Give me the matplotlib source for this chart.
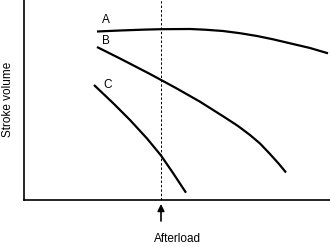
import matplotlib
matplotlib.use("Agg")
import matplotlib.pyplot as plt

plt.rcParams['font.family'] = ['Liberation Sans', 'DejaVu Sans']

# schematic: afterload (x) vs stroke volume (y), arbitrary units
a_x = [73, 96, 121, 137, 166, 181, 199, 216, 233, 249, 266, 286, 304]
a_y = [168.5, 169.5, 170.4, 170.8, 171.0, 170.3, 169.0, 166.8, 164.0,
       160.7, 156.7, 152.0, 146.7]
b_x = [73, 96, 126, 151, 176, 201, 214, 226, 236, 246, 255, 262]
b_y = [153.0, 141.5, 126.0, 112.5, 98.3, 82.5, 74.0, 65.0, 56.5, 46.0, 36.0, 27.5]
c_x = [70, 89, 106, 123, 137, 149, 162]
c_y = [115.0, 97.0, 80.0, 61.5, 44.5, 27.0, 7.3]
labels = ['A', 'B', 'C']
label_pos = [(82, 180), (82, 158.5), (84, 115)]
marker_x = 137

fig = plt.figure(figsize=(3.3, 2.47), dpi=100)
ax = fig.add_axes([24/330, 47/247, 306/330, 200/247])

for xs, ys in [(a_x, a_y), (b_x, b_y), (c_x, c_y)]:
    ax.plot(xs, ys, color='black', lw=1.6, solid_capstyle='butt',
            solid_joinstyle='round')

for lab, (lx, ly) in zip(labels, label_pos):
    ax.text(lx, ly, lab, fontsize=8.5, ha='center', va='center')

ax.axvline(marker_x, color='black', lw=0.7, ls=(0, (2.5, 2)))

ax.set_xlim(0, 306)
ax.set_ylim(0, 200)
ax.set_xticks([])
ax.set_yticks([])
ax.spines['top'].set_visible(False)
ax.spines['right'].set_visible(False)
ax.spines['left'].set_linewidth(1.2)
ax.spines['bottom'].set_linewidth(1.2)

ax.annotate('', xy=(marker_x, -4), xytext=(marker_x, -21),
            arrowprops=dict(arrowstyle='-|>', color='black', lw=1.2,
                            mutation_scale=10, shrinkA=0, shrinkB=0),
            annotation_clip=False)
ax.text(153, -39, 'Afterload', fontsize=8.5, ha='center', va='center')
fig.text(8/330, 1 - 99/247, 'Stroke volume', fontsize=8.5, rotation=90,
         ha='center', va='center')

fig.savefig('out.png', dpi=100)
